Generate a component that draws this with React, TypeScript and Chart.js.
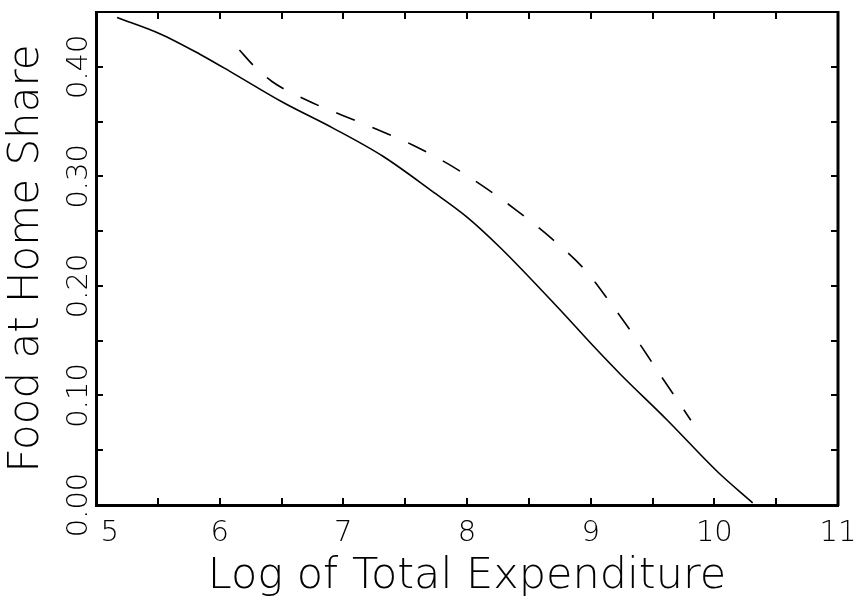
import React, { useEffect, useRef } from 'react';
import { Chart, registerables } from 'chart.js';

Chart.register(...registerables);

// Solid curve (log total expenditure, food-at-home share)
const solidX = [5.17, 5.52, 5.84, 6.11, 6.51, 6.92, 7.32, 7.72, 8.0, 8.27, 8.75, 9.02, 9.24, 9.62, 10.03, 10.31];
const solidY = [0.445, 0.43, 0.4115, 0.394, 0.3676, 0.3438, 0.3183, 0.2863, 0.2628, 0.2348, 0.1784, 0.1453, 0.1194, 0.0774, 0.0299, 0.002];

// Dashed curve
const dashedX = [6.16, 6.27, 6.42, 6.71, 6.99, 7.27, 7.56, 7.84, 8.12, 8.4, 8.69, 8.97, 9.17, 9.36, 9.54, 9.72, 9.81];
const dashedY = [0.4153, 0.4016, 0.3868, 0.3692, 0.3558, 0.343, 0.3286, 0.3118, 0.2917, 0.269, 0.2427, 0.2126, 0.1829, 0.1531, 0.1226, 0.0925, 0.0774];

const xTickLabels = ['   5', '6', '7', '8', '9', '10', '11'];
const yTickLabels = ['0.00', '0.10', '0.20', '0.30', '0.40'];

const xTitle = 'Log of Total Expenditure';
const yTitle = 'Food at Home Share';

const FONT = 'DejaVu Sans';

const framePlugin = {
  id: 'frameTicks',
  afterDraw(chart: any) {
    const { ctx, chartArea, scales } = chart;
    const { left, right, top, bottom } = chartArea;
    const xs = scales.x;
    const ys = scales.y;
    ctx.save();
    ctx.strokeStyle = '#000';
    ctx.lineCap = 'butt';
    ctx.lineWidth = 2;
    ctx.beginPath();
    ctx.moveTo(left - 1, top);
    ctx.lineTo(right + 1, top);
    ctx.stroke();
    ctx.lineWidth = 3;
    ctx.beginPath();
    ctx.moveTo(right, top - 1);
    ctx.lineTo(right, bottom + 1);
    ctx.stroke();
    ctx.lineWidth = 2;
    const tl = 7;
    ctx.beginPath();
    xs.ticks.forEach((t: any) => {
      const px = Math.round(xs.getPixelForValue(t.value));
      if (px <= left + 2 || px >= right - 2) return;
      ctx.moveTo(px, bottom);
      ctx.lineTo(px, bottom - tl);
      ctx.moveTo(px, top);
      ctx.lineTo(px, top + tl);
    });
    ys.ticks.forEach((t: any) => {
      const py = Math.round(ys.getPixelForValue(t.value));
      if (py <= top + 2 || py >= bottom - 2) return;
      ctx.moveTo(left, py);
      ctx.lineTo(left + tl, py);
      ctx.moveTo(right, py);
      ctx.lineTo(right - tl, py);
    });
    ctx.stroke();
    ctx.restore();
  },
};

export default function App() {
  const ref = useRef<HTMLCanvasElement | null>(null);

  useEffect(() => {
    document.body.style.margin = '0';
    const canvas = ref.current;
    if (!canvas) return;
    const chart = new Chart(canvas, {
      type: 'line',
      data: {
        datasets: [
          {
            label: 'solid',
            data: solidX.map((x, i) => ({ x, y: solidY[i] })),
            borderColor: '#000',
            borderWidth: 1.6,
            pointRadius: 0,
            fill: false,
            cubicInterpolationMode: 'monotone',
          },
          {
            label: 'dashed',
            data: dashedX.map((x, i) => ({ x, y: dashedY[i] })),
            borderColor: '#000',
            borderWidth: 1.6,
            borderDash: [20, 19],
            pointRadius: 0,
            fill: false,
            cubicInterpolationMode: 'monotone',
          },
        ],
      },
      options: {
        animation: false,
        responsive: false,
        devicePixelRatio: 1,
        layout: { padding: { left: 0, right: 19, top: 12, bottom: 0 } },
        plugins: {
          legend: { display: false },
          tooltip: { enabled: false },
        },
        scales: {
          x: {
            type: 'linear',
            min: 5,
            max: 11,
            grid: { display: false, drawTicks: false },
            border: { display: true, color: '#000', width: 3 },
            ticks: {
              stepSize: 0.5,
              autoSkip: false,
              minRotation: 0,
              maxRotation: 0,
              padding: 11,
              color: '#000',
              font: { family: FONT, size: 29, weight: 200 as any },
              callback: (v: any) => {
                const n = Number(v);
                if (Math.abs(n - Math.round(n)) < 1e-6) return xTickLabels[Math.round(n) - 5];
                return '';
              },
            },
            title: {
              display: true,
              text: xTitle,
              color: '#000',
              font: { family: FONT, size: 43, weight: 200 as any },
              padding: { top: 0, bottom: 0 },
            },
            afterFit: (s: any) => {
              s.height = 98;
              s.paddingLeft = 0;
              s.paddingRight = 0;
            },
          },
          y: {
            type: 'linear',
            min: 0,
            max: 0.45,
            grid: { display: false, drawTicks: false },
            border: { display: true, color: '#000', width: 3 },
            ticks: {
              stepSize: 0.05,
              autoSkip: false,
              minRotation: 90,
              maxRotation: 90,
              crossAlign: 'center',
              padding: -16,
              color: '#000',
              font: { family: FONT, size: 29, weight: 200 as any },
              callback: (v: any) => {
                const k = Math.round(Number(v) * 100);
                if (k % 10 === 0) return yTickLabels[k / 10];
                return '';
              },
            },
            title: {
              display: true,
              text: yTitle,
              color: '#000',
              font: { family: FONT, size: 42, weight: 200 as any },
              padding: { top: 2, bottom: 0 },
            },
            afterFit: (s: any) => {
              s.width = 96;
              s.paddingTop = 0;
              s.paddingBottom = 0;
            },
          },
        },
      },
      plugins: [framePlugin],
    } as any);
    return () => chart.destroy();
  }, []);

  return (
    <div style={{ position: 'fixed', left: 0, top: 0, width: 857, height: 603, background: '#fff' }}>
      <canvas ref={ref} width={857} height={603} style={{ display: 'block', width: 857, height: 603 }} />
    </div>
  );
}
